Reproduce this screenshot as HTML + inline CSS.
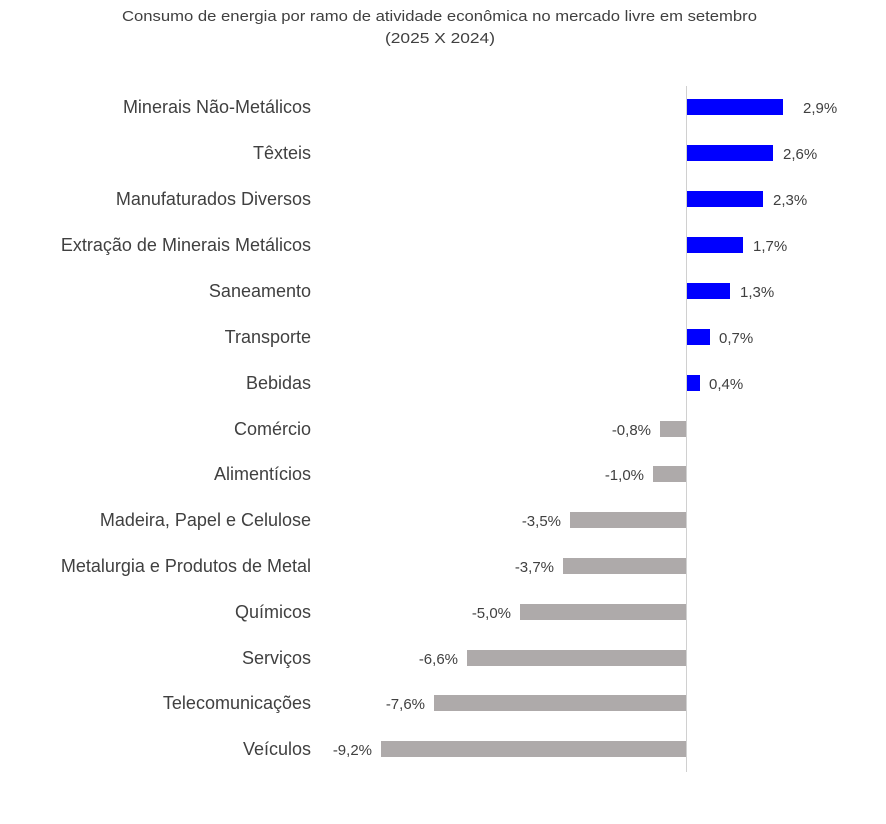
<!DOCTYPE html>
<html><head><meta charset="utf-8"><style>
body{margin:0;background:#fff;}
svg text{font-family:"Liberation Sans",sans-serif;fill:#404040;}
</style></head><body>
<svg width="886" height="819" xmlns="http://www.w3.org/2000/svg">
<rect width="886" height="819" fill="#fff"/>
<text x="122" y="21" font-size="15" textLength="635" lengthAdjust="spacingAndGlyphs">Consumo de energia por ramo de atividade econômica no mercado livre em setembro</text>
<text x="385" y="43" font-size="15" textLength="110" lengthAdjust="spacingAndGlyphs">(2025 X 2024)</text>
<line x1="686.5" y1="86" x2="686.5" y2="772" stroke="#d0d0d0" stroke-width="1"/>
<g font-size="18" text-anchor="end">
<text x="311" y="113">Minerais Não-Metálicos</text>
<text x="311" y="159">Têxteis</text>
<text x="311" y="205">Manufaturados Diversos</text>
<text x="311" y="251">Extração de Minerais Metálicos</text>
<text x="311" y="297">Saneamento</text>
<text x="311" y="343">Transporte</text>
<text x="311" y="389">Bebidas</text>
<text x="311" y="435">Comércio</text>
<text x="311" y="480">Alimentícios</text>
<text x="311" y="526">Madeira, Papel e Celulose</text>
<text x="311" y="572">Metalurgia e Produtos de Metal</text>
<text x="311" y="618">Químicos</text>
<text x="311" y="664">Serviços</text>
<text x="311" y="709">Telecomunicações</text>
<text x="311" y="755">Veículos</text>
</g>
<g fill="#0000ff">
<rect x="687" y="99" width="96" height="16"/>
<rect x="687" y="145" width="86" height="16"/>
<rect x="687" y="191" width="76" height="16"/>
<rect x="687" y="237" width="56" height="16"/>
<rect x="687" y="283" width="43" height="16"/>
<rect x="687" y="329" width="23" height="16"/>
<rect x="687" y="375" width="13" height="16"/>
</g>
<g fill="#aeaaaa">
<rect x="660" y="421" width="26" height="16"/>
<rect x="653" y="466" width="33" height="16"/>
<rect x="570" y="512" width="116" height="16"/>
<rect x="563" y="558" width="123" height="16"/>
<rect x="520" y="604" width="166" height="16"/>
<rect x="467" y="650" width="219" height="16"/>
<rect x="434" y="695" width="252" height="16"/>
<rect x="381" y="741" width="305" height="16"/>
</g>
<g font-size="15">
<text x="803" y="113">2,9%</text>
<text x="783" y="159">2,6%</text>
<text x="773" y="205">2,3%</text>
<text x="753" y="251">1,7%</text>
<text x="740" y="297">1,3%</text>
<text x="719" y="343">0,7%</text>
<text x="709" y="389">0,4%</text>
</g>
<g font-size="15" text-anchor="end">
<text x="651" y="435">-0,8%</text>
<text x="644" y="480">-1,0%</text>
<text x="561" y="526">-3,5%</text>
<text x="554" y="572">-3,7%</text>
<text x="511" y="618">-5,0%</text>
<text x="458" y="664">-6,6%</text>
<text x="425" y="709">-7,6%</text>
<text x="372" y="755">-9,2%</text>
</g>
</svg>
</body></html>
